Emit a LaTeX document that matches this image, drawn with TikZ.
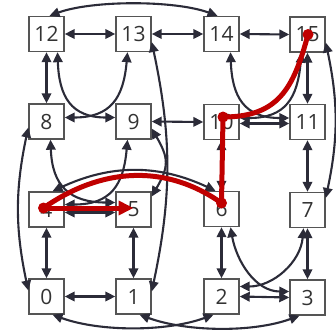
\documentclass[tikz,border=0pt]{standalone}
\usepackage{fontspec}
\setmainfont{Open Sans}
\usetikzlibrary{arrows.meta}
\definecolor{edgec}{HTML}{2B2B38}
\definecolor{boxc}{HTML}{555555}
\definecolor{txtc}{HTML}{333333}
\definecolor{redc}{HTML}{C00000}
\begin{document}
\begin{tikzpicture}[x=1pt,y=1pt,
  box/.style={draw=boxc, line width=1.4pt, fill=white, minimum size=35pt, inner sep=0pt, text=txtc, font=\fontsize{21}{24}\selectfont},
  link/.style={draw=edgec, line width=2.1pt, {Triangle[length=10pt,width=9.5pt]}-{Triangle[length=10pt,width=9.5pt]}},
  route/.style={draw=redc, line width=5pt, line cap=round, line join=round},
  dot/.style={fill=redc, circle, inner sep=0pt, minimum size=11pt}]
\useasboundingbox (0,0) rectangle (336,330);
% nodes
\node[box] (n12) at (46.5,296) {12};
\node[box] (n13) at (133.5,296) {13};
\node[box] (n14) at (221.5,296) {14};
\node[box] (n15) at (307.5,295.5) {15};
\node[box] (n8) at (46.5,208.5) {8};
\node[box] (n9) at (133.5,208.5) {9};
\node[box] (n10) at (221.5,208) {10};
\node[box] (n11) at (307.5,208) {11};
\node[box] (n4) at (46.5,120.5) {4};
\node[box] (n5) at (133.5,120.5) {5};
\node[box] (n6) at (221.5,121) {6};
\node[box] (n7) at (307.5,120) {7};
\node[box] (n0) at (46.5,33.5) {0};
\node[box] (n1) at (133.5,33.5) {1};
\node[box] (n2) at (221.5,33.5) {2};
\node[box] (n3) at (307.5,32.5) {3};
% straight links
\draw[link] (n12.east) -- (n13.west);
\draw[link] (n13.east) -- (n14.west);
\draw[link] (n14.east) -- (n15.west);
\draw[link] (n12.south) -- (n8.north);
\draw[link] (n15.south) -- (n11.north);
\draw[link] (n9.east) -- (n10.west);
\draw[link] ([yshift=-1.5]n10.east) -- ([yshift=-1.5]n11.west);
\draw[link] (n10.south) -- (n6.north);
\draw[link] (n11.south) -- (n7.north);
\draw[link] ([yshift=-3]n4.east) -- ([yshift=-3]n5.west);
\draw[link] (n4.south) -- (n0.north);
\draw[link] (n5.south) -- (n1.north);
\draw[link] (n0.east) -- (n1.west);
\draw[link] (n6.south) -- (n2.north);
\draw[link] (n7.south) -- (n3.north);
\draw[link] (n2.east) -- (n3.west);
% curved links
\draw[link] ([xshift=11]n12.south) to[out=-88,in=180,looseness=1.3] ([yshift=4]n9.west);
\draw[link] ([xshift=-6]n13.south) to[out=-95,in=0,looseness=1.3] ([yshift=4]n8.east);
\draw[link] ([xshift=9]n14.south) to[out=-88,in=180,looseness=1.3] ([yshift=4]n11.west);
\draw[link] ([xshift=-6]n15.south) to[out=-95,in=0,looseness=1.3] ([yshift=4]n10.east);
\draw[link] ([xshift=4]n8.south) to[out=-88,in=180,looseness=1.3] ([yshift=7]n5.west);
\draw[link] ([xshift=-6]n9.south) to[out=-95,in=0,looseness=1.3] ([yshift=5]n4.east);
\draw[link] ([yshift=-7]n9.east) to[out=-60,in=60,looseness=1.3] ([yshift=13]n5.east);
\draw[link] ([yshift=-8]n13.east) to[out=-78,in=78] ([yshift=5]n1.east);
\draw[link] ([yshift=-6]n8.west) to[out=-102,in=102] ([yshift=6]n0.west);
\draw[link] ([yshift=-8]n15.east) to[out=-78,in=78] ([yshift=12]n7.east);
\draw[link] ([xshift=6]n4.north) to[out=25,in=155] ([xshift=-6]n6.north);
\draw[link] ([xshift=9]n6.south) to[out=-80,in=180] ([yshift=6]n3.west);
\draw[link] ([xshift=-4]n7.south) to[out=-95,in=0] ([yshift=10]n2.east);
\draw[link] ([xshift=6]n0.south) to[out=-20,in=-160,looseness=0.8] ([xshift=-8]n2.south);
\draw[link] ([xshift=6]n1.south) to[out=-20,in=-160,looseness=0.8] ([xshift=-8]n3.south);
\draw[link] ([xshift=3]n12.north) to[out=20,in=160,looseness=0.7] ([xshift=-4]n14.north);
% red route
\node[dot] (d4) at ([xshift=-3,yshift=1.5]n4.center) {};
\node[dot] (d6) at ([yshift=6]n6.center) {};
\node[dot] (d10) at ([xshift=1.5,yshift=5]n10.center) {};
\node[dot] (d15) at ([xshift=0.5]n15.center) {};
\draw[route, -{Triangle[length=15pt,width=14pt]}] (d4.center) -- (d4.center -| n5.center);
\draw[route] (d4.center) to[out=35,in=145] (d6.center) -- (d10.center) to[out=0,in=-105,looseness=1.2] (d15.center);
\end{tikzpicture}
\end{document}
